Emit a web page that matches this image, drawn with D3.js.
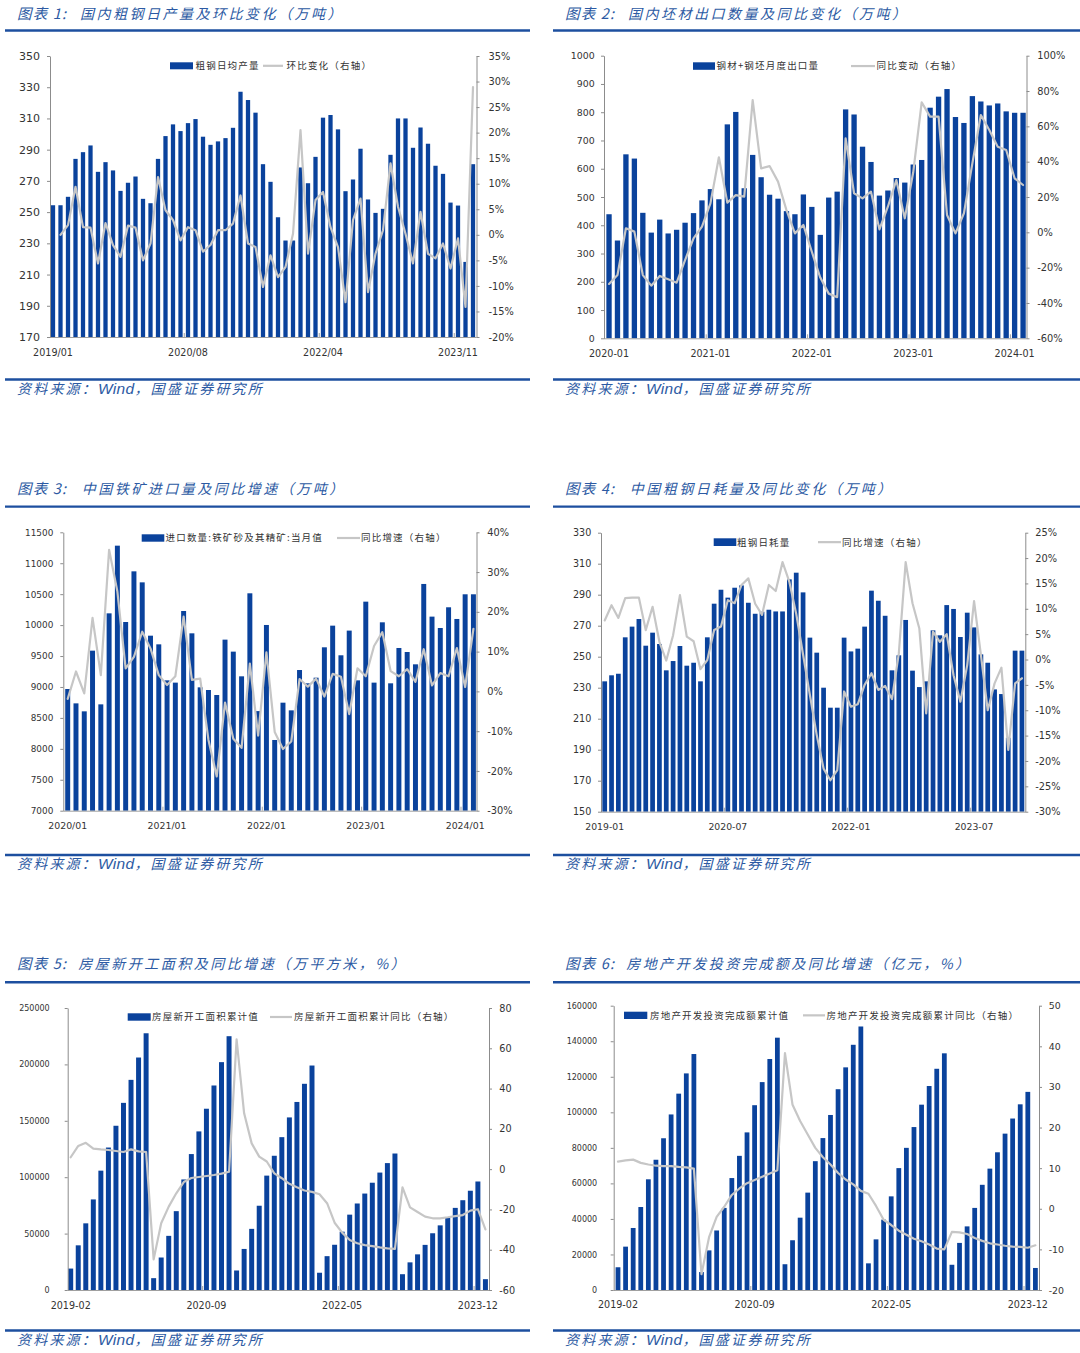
<!DOCTYPE html>
<html><head><meta charset="utf-8">
<script src="https://cdn.jsdelivr.net/npm/d3@7"></script>
<style>
html,body{margin:0;padding:0;background:#fff;}
svg{display:block;}
</style></head>
<body>
<svg id="chart" width="1080" height="1353"></svg>
<script>
// ---------- Chart 1: crude steel daily output & MoM ----------
const steelMonths = ["2019/01","2019/02","2019/03","2019/04","2019/05","2019/06","2019/07","2019/08","2019/09","2019/10","2019/11","2019/12",
"2020/01","2020/03","2020/04","2020/05","2020/06","2020/07","2020/08","2020/09","2020/10","2020/11","2020/12",
"2021/01","2021/03","2021/04","2021/05","2021/06","2021/07","2021/08","2021/09","2021/10","2021/11","2021/12",
"2022/01","2022/03","2022/04","2022/05","2022/06","2022/07","2022/08","2022/09","2022/10","2022/11","2022/12",
"2023/01","2023/03","2023/04","2023/05","2023/06","2023/07","2023/08","2023/09","2023/10","2023/11","2023/12",
"2024/01"];
const steelDailyOutput = [254.4,254.4,259.8,284.1,288.4,292.7,275.8,282,276.7,263.6,268.8,272.8,258.5,255.7,284.1,298.7,306.2,301.9,307,309.6,298.3,293.1,295.3,297.4,304,327.1,321.8,313.7,280.7,269.4,246.7,231.8,231.8,278.6,268.5,285.4,310.5,312.2,303,263.4,270.9,290.6,258.1,249.5,252.1,286.7,310,310,291.2,304.2,293.8,279.7,274.5,256.1,254.2,218.1,280.7];
const steelMoM = [null,0,1.9,9.4,1.5,1.4,-5.6,2.3,-2,-4.3,1.8,1.4,-5,-1.7,11.3,4.8,2.9,-1.1,1.5,0.9,-3.3,-2,0.9,0.9,2.2,7.7,-1.7,-2.4,-10.2,-4,-8.3,-6.3,0.2,20.5,-3.7,6.8,8.4,1.5,-2.4,-13.2,2.9,7.1,-11.2,-3.7,0.9,14,5.5,0.2,-5.6,4.5,-3.7,-4.6,-1.7,-6.6,-0.7,-14.1,28.9];
const steelTickLabels = ["2019/01","2020/08","2022/04","2023/11"];

// ---------- Chart 2: steel + billet exports & YoY ----------
const exportMonths = ["2020-01","2020-02","2020-03","2020-04","2020-05","2020-06","2020-07","2020-08","2020-09","2020-10","2020-11","2020-12",
"2021-01","2021-02","2021-03","2021-04","2021-05","2021-06","2021-07","2021-08","2021-09","2021-10","2021-11","2021-12",
"2022-01","2022-02","2022-03","2022-04","2022-05","2022-06","2022-07","2022-08","2022-09","2022-10","2022-11","2022-12",
"2023-01","2023-02","2023-03","2023-04","2023-05","2023-06","2023-07","2023-08","2023-09","2023-10","2023-11","2023-12",
"2024-01","2024-02"];
const exportVolume = [439,346,651,636,444,374,420,371,384,409,443,488,528,492,757,801,531,649,570,508,494,450,439,509,465,366,498,519,810,792,678,624,505,523,567,551,615,631,816,855,882,783,762,857,838,824,831,803,798,798];
const exportYoY = [-29.2,-24.2,2.3,0.4,-24.2,-30.2,-24.7,-26.6,-28.5,-15.7,-3.4,3.2,16.4,42.5,16.8,21.1,20.2,74.9,36.2,37.5,28.7,12.6,-0.6,4.2,-11,-25.6,-34.7,-36.7,53.2,22.1,19.2,23,1.7,14.5,29.6,7.9,34,73.6,65.5,65.5,9.8,-0.6,10.8,39,66.4,57.9,48.5,46.6,30.6,26.8];
const exportTickLabels = ["2020-01","2021-01","2022-01","2023-01","2024-01"];

// ---------- Chart 3: iron ore imports & YoY ----------
const oreMonths = ["2020/01","2020/02","2020/03","2020/04","2020/05","2020/06","2020/07","2020/08","2020/09","2020/10","2020/11","2020/12",
"2021/01","2021/02","2021/03","2021/04","2021/05","2021/06","2021/07","2021/08","2021/09","2021/10","2021/11","2021/12",
"2022/01","2022/02","2022/03","2022/04","2022/05","2022/06","2022/07","2022/08","2022/09","2022/10","2022/11","2022/12",
"2023/01","2023/02","2023/03","2023/04","2023/05","2023/06","2023/07","2023/08","2023/09","2023/10","2023/11","2023/12",
"2024/01","2024/02"];
const oreImports = [8967,8735,8606,9587,8719,10190,11284,10050,10869,10691,9829,9689,9107,9070,10228,9867,8994,8951,8870,9765,9571,9172,10514,8610,10002,8143,8746,8622,9274,9059,9150,9641,9991,9512,9911,9107,10379,9070,10045,9059,9630,9565,9366,10665,10137,9953,10288,10099,10498,10498];
const oreYoY = [-1.9,5,-0.5,18.5,4.1,35.6,25.1,5.8,8.7,15,10.8,4.1,1.6,3.8,18.8,2.9,3.2,-12.2,-21.4,-2.8,-11.9,-14.2,7,-11.1,9.8,-10.2,-14.5,-12.6,3.1,1.2,3.2,-1.3,4.4,3.7,-5.7,5.8,3.8,11.4,14.9,5.1,3.8,5.6,2.4,10.6,1.5,4.6,3.8,10.9,1.1,15.7];
const oreTickLabels = ["2020/01","2021/01","2022/01","2023/01","2024/01"];

// ---------- Chart 4: crude steel daily consumption & YoY ----------
const useMonths = ["2019-01","2019-02","2019-03","2019-04","2019-05","2019-06","2019-07","2019-08","2019-09","2019-10","2019-11","2019-12",
"2020-01","2020-02","2020-03","2020-04","2020-05","2020-06","2020-07","2020-08","2020-09","2020-10","2020-11","2020-12",
"2021-01","2021-02","2021-03","2021-04","2021-05","2021-06","2021-07","2021-08","2021-09","2021-10","2021-11","2021-12",
"2022-01","2022-02","2022-03","2022-04","2022-05","2022-06","2022-07","2022-08","2022-09","2022-10","2022-11","2022-12",
"2023-01","2023-02","2023-03","2023-04","2023-05","2023-06","2023-07","2023-08","2023-09","2023-10","2023-11","2023-12",
"2024-01","2024-02"];
const steelDailyUse = [234.1,238,239,262.5,269.4,274.3,257.1,265.5,258.2,241.2,247.2,256.9,244.2,246.1,234.1,262.5,284.2,293.2,288.1,294.5,296,284.8,277.7,279,280.3,279.2,279.2,299.9,304.2,291.5,262.3,252.6,230,217.1,217.1,262.3,253.4,255.2,269.4,292.6,286.1,276.4,241.2,250.9,273.7,241,230.4,234.1,267,263.8,283.3,280.8,262.7,278.4,268.9,251.5,246.1,228.9,225.9,197.7,253.9,253.9];
const steelUseYoY = [7.7,10.7,8.2,12.1,12.2,12.2,5.8,10.4,3.5,-0.2,4.8,12.7,4.5,3.6,-1.9,-0.1,5.8,6.5,11.7,11.1,14.7,16,11,8.8,14.7,13.5,19.2,15.3,9,1,-7,-14.9,-21.5,-23.8,-21.8,-6.3,-9.3,-8.8,-5,-2.7,-6,-5.2,-7.8,1.2,19.2,11.1,6.1,-10.6,5.5,3.5,5,-3.1,-8.3,-1.1,11.5,0.9,-10,-4.7,-1.6,-17.8,-4.7,-3.7];
const useTickLabels = ["2019-01","2020-07","2022-01","2023-07"];

// ---------- Charts 5 & 6: housing (cumulative, Jan merged into Feb) ----------
const housingMonths = ["2019-02","2019-03","2019-04","2019-05","2019-06","2019-07","2019-08","2019-09","2019-10","2019-11","2019-12",
"2020-02","2020-03","2020-04","2020-05","2020-06","2020-07","2020-08","2020-09","2020-10","2020-11","2020-12",
"2021-02","2021-03","2021-04","2021-05","2021-06","2021-07","2021-08","2021-09","2021-10","2021-11","2021-12",
"2022-02","2022-03","2022-04","2022-05","2022-06","2022-07","2022-08","2022-09","2022-10","2022-11","2022-12",
"2023-02","2023-03","2023-04","2023-05","2023-06","2023-07","2023-08","2023-09","2023-10","2023-11","2023-12",
"2024-02"];
const newStartsCum = [19000,39600,59100,80300,105800,126300,145600,165900,186300,206100,227600,
10500,28800,48000,69900,98000,120500,140600,160700,181300,202000,225000,
17300,36400,54200,74700,101400,119000,135500,153000,166700,182800,199000,
15300,30000,40100,51700,66800,76700,85500,95100,104100,112500,121000,
14000,24500,31600,40000,50300,57300,64500,72800,79600,88000,96200,
9600];
const newStartsYoY = [5.9,11.5,13.1,10.2,9.8,9.5,9,8.5,9.8,8.8,8.5,
-44.8,-26.9,-18.6,-12,-6.4,-4.4,-3.9,-3.4,-2.9,-2.2,-1.3,
64.4,27.7,12.8,6.2,3.8,-2.1,-4.5,-7.3,-9,-10.6,-11.3,
-12.5,-16.9,-26.6,-31.5,-35.2,-36.8,-37.7,-38.2,-38.8,-39.3,-39.6,
-9,-19,-21.3,-23.6,-24.4,-24.4,-23.9,-23.3,-22.8,-20.6,-19.9,
-29.9];
const investCum = [12800,24400,34900,46700,62300,73300,85400,98800,110500,121900,132800,
10100,22300,33500,46200,63000,75500,88700,104000,117000,130000,142000,
14500,28000,40700,54800,72500,85500,98500,113000,125300,138000,148300,
15000,28500,39600,52700,68600,80000,91700,104300,114800,124500,133200,
14200,26500,35800,46200,59200,68300,77500,88000,96500,104500,111500,
12400];
const investYoY = [11.6,11.9,12.1,11.3,10.9,10.6,10.5,10.5,10.3,10.2,9.9,
-16.1,-7,-2,0.5,3.4,5,6.3,7.1,7.9,8.7,9.5,
38.3,25.6,21.6,18.3,15,12.7,10.9,8.8,7.2,6,4.4,
3.7,0.7,-2.7,-4,-5.4,-6.4,-7.4,-8,-8.8,-9.8,-10,
-5.7,-5.8,-6.2,-7.2,-7.9,-8.5,-8.8,-9.1,-9.3,-9.4,-9.6,
-9];
const housingTickLabels = ["2019-02","2020-09","2022-05","2023-12"];

// ---------- styles ----------
const BAR = "#0a429c", LINE = "#c6c6c6", BLUE_T = "#2c5aa3", RULE = "#1d4f9f";
const NUM = "'DejaVu Sans', Verdana, sans-serif";
const CJK = "'Noto Sans CJK SC', sans-serif";
const svg = d3.select("#chart");
svg.append("rect").attr("width",1080).attr("height",1353).attr("fill","#fff");

const rows = [
  {titleY:18.5, ruleY:30.5, footRuleY:379.5, footY:393.5},
  {titleY:493.5, ruleY:506.6, footRuleY:855, footY:868.5},
  {titleY:969, ruleY:982.2, footRuleY:1330.5, footY:1345}
];
const cols = [{x0:5, x1:530, tx:17}, {x0:553, x1:1080, tx:565}];

const pct = d => d + "%";
const plain = d => String(d);

const panels = [
 {row:0,col:0,num:"1",title:"国内粗钢日产量及环比变化（万吨）",mainX:80,
  cats:steelMonths,bars:steelDailyOutput,line:steelMoM,ticks:steelTickLabels,
  barName:"粗钢日均产量",lineName:"环比变化（右轴）",
  xr:[49.25,476.75],axL:50,axR:476.5,top:56,bottom:337,pad:0.43,
  lDom:[170,350],lTicks:d3.range(170,351,20),lFmt:plain,rDom:[-20,35],rTicks:d3.range(-20,36,5),rFmt:pct,
  lFs:11,rFs:9.8,xFs:9.6,lOff:10,rOff:12,xPad:12.2,
  leg:{rx:170,ry:62.3,rw:23,rh:7,tx:195.5,lx1:263,lx2:283,t2x:286.5}},
 {row:0,col:1,num:"2",title:"国内坯材出口数量及同比变化（万吨）",mainX:628,
  cats:exportMonths,bars:exportVolume,line:exportYoY,ticks:exportTickLabels,
  barName:"钢材+钢坯月度出口量",lineName:"同比变动（右轴）",
  xr:[604.8,1027.3],axL:604,axR:1026.5,top:55.7,bottom:338.3,pad:0.37,
  lDom:[0,1000],lTicks:d3.range(0,1001,100),lFmt:plain,rDom:[-60,100],rTicks:d3.range(-60,101,20),rFmt:pct,
  lFs:9.4,rFs:9.8,xFs:9.6,lOff:9.3,rOff:10.8,xPad:11.4,
  leg:{rx:693,ry:62.3,rw:22,rh:7.5,tx:716.5,lx1:851,lx2:875,t2x:876.5}},
 {row:1,col:0,num:"3",title:"中国铁矿进口量及同比增速（万吨）",mainX:81.7,
  cats:oreMonths,bars:oreImports,line:oreYoY,ticks:oreTickLabels,
  barName:"进口数量:铁矿砂及其精矿:当月值",lineName:"同比增速（右轴）",
  xr:[63.56,477.56],axL:63.3,axR:476.5,top:532.3,bottom:810.7,pad:0.4,
  lDom:[7000,11500],lTicks:d3.range(7000,11501,500),lFmt:plain,rDom:[-30,40],rTicks:d3.range(-30,41,10),rFmt:pct,
  lFs:8.9,rFs:9.8,xFs:9.4,lOff:10,rOff:10.8,xPad:11.7,
  leg:{rx:141.7,ry:534.3,rw:22.6,rh:7.4,tx:165.5,lx1:337,lx2:360,t2x:361}},
 {row:1,col:1,num:"4",title:"中国粗钢日耗量及同比变化（万吨）",mainX:629.7,
  cats:useMonths,bars:steelDailyUse,line:steelUseYoY,ticks:useTickLabels,
  barName:"粗钢日耗量",lineName:"同比增速（右轴）",
  xr:[601.28,1025.36],axL:601,axR:1025.3,top:532.7,bottom:811.7,pad:0.31,
  lDom:[150,330],lTicks:d3.range(150,331,20),lFmt:plain,rDom:[-30,25],rTicks:d3.range(-30,26,5),rFmt:pct,
  lFs:9.6,rFs:9.8,xFs:9.3,lOff:9.7,rOff:10,xPad:11.7,
  leg:{rx:713.7,ry:538.3,rw:22.6,rh:7.7,tx:737,lx1:818,lx2:841,t2x:842}},
 {row:2,col:0,num:"5",title:"房屋新开工面积及同比增速（万平方米，%）",mainX:78.3,
  cats:housingMonths,bars:newStartsCum,line:newStartsYoY,ticks:housingTickLabels,
  barName:"房屋新开工面积累计值",lineName:"房屋新开工面积累计同比（右轴）",
  xr:[66.93,489.2],axL:67.7,axR:489,top:1008,bottom:1290,pad:0.34,
  lDom:[0,250000],lTicks:d3.range(0,250001,50000),lFmt:plain,rDom:[-60,80],rTicks:d3.range(-60,81,20),rFmt:plain,
  lFs:8,rFs:9.7,xFs:9.6,lOff:18,rOff:10.3,xPad:11.7,
  leg:{rx:127.7,ry:1013.3,rw:23,rh:7.4,tx:152,lx1:270,lx2:292,t2x:294}},
 {row:2,col:1,num:"6",title:"房地产开发投资完成额及同比增速（亿元，%）",mainX:626.3,
  cats:housingMonths,bars:investCum,line:investYoY,ticks:housingTickLabels,
  barName:"房地产开发投资完成额累计值",lineName:"房地产开发投资完成额累计同比（右轴）",
  xr:[614.2,1039.2],axL:613.7,axR:1039,top:1005.7,bottom:1290,pad:0.37,
  lDom:[0,160000],lTicks:d3.range(0,160001,20000),lFmt:plain,rDom:[-20,50],rTicks:d3.range(-20,51,10),rFmt:plain,
  lFs:8,rFs:9.4,xFs:9.6,lOff:16.5,rOff:9.7,xPad:10.7,
  leg:{rx:624,ry:1011.7,rw:23.3,rh:7.3,tx:650,lx1:803,lx2:825,t2x:826.5}}
];

function styleAxis(a, fs) {
  a.select(".domain").attr("stroke","#8c8c8c").attr("stroke-width",1);
  a.selectAll(".tick line").attr("stroke","#8c8c8c");
  a.selectAll(".tick text").attr("font-family",NUM).attr("font-size",fs).attr("fill","#333");
}

panels.forEach(p => {
  const r = rows[p.row], c = cols[p.col];
  const g = svg.append("g");

  // header / footer
  g.append("text").attr("x",c.tx).attr("y",r.titleY).attr("font-family",CJK).attr("font-style","italic")
    .attr("font-size",14.5).attr("letter-spacing",1.2).attr("fill",BLUE_T).text("图表 " + p.num + ":");
  g.append("text").attr("x",p.mainX).attr("y",r.titleY).attr("font-family",CJK).attr("font-style","italic")
    .attr("font-size",14).attr("letter-spacing",2.5).attr("fill",BLUE_T).text(p.title);
  g.append("line").attr("x1",c.x0).attr("x2",c.x1).attr("y1",r.ruleY).attr("y2",r.ruleY).attr("stroke",RULE).attr("stroke-width",2.4);
  g.append("line").attr("x1",c.x0).attr("x2",c.x1).attr("y1",r.footRuleY).attr("y2",r.footRuleY).attr("stroke",RULE).attr("stroke-width",2.4);
  const ft = g.append("text").attr("x",c.tx).attr("y",r.footY).attr("font-family",CJK).attr("font-style","italic")
    .attr("font-size",14).attr("fill",BLUE_T);
  ft.append("tspan").attr("letter-spacing",2.2).text("资料来源：");
  ft.append("tspan").attr("letter-spacing",0.3).attr("font-family","'Liberation Sans', Arial, sans-serif").attr("font-size",15.5).text("Wind");
  ft.append("tspan").attr("letter-spacing",2.2).text("，国盛证券研究所");

  // scales
  const x = d3.scaleBand().domain(p.cats).range(p.xr).paddingInner(p.pad).paddingOuter(p.pad/2);
  const yL = d3.scaleLinear().domain(p.lDom).range([p.bottom,p.top]);
  const yR = d3.scaleLinear().domain(p.rDom).range([p.bottom,p.top]);

  // bars
  g.append("g").selectAll("rect").data(p.cats).join("rect")
    .attr("x",d => x(d)).attr("width",x.bandwidth())
    .attr("y",(d,i) => yL(p.bars[i])).attr("height",(d,i) => yL(p.lDom[0]) - yL(p.bars[i]))
    .attr("fill",BAR);

  // bottom axis line and category-boundary ticks
  g.append("line").attr("x1",p.axL).attr("x2",p.axR).attr("y1",p.bottom+0.5).attr("y2",p.bottom+0.5).attr("stroke","#a0a0a0");
  const gap = (x.step() - x.bandwidth())/2;
  g.append("g").selectAll("line").data(p.ticks.slice(1)).join("line")
    .attr("x1",d => x(d)-gap).attr("x2",d => x(d)-gap).attr("y1",p.bottom).attr("y2",p.bottom-4)
    .attr("stroke","#a0a0a0");

  // x labels
  const ax = g.append("g").attr("transform",`translate(0,${p.bottom})`)
    .call(d3.axisBottom(x).tickValues(p.ticks).tickSize(0).tickPadding(p.xPad));
  ax.select(".domain").remove();
  ax.selectAll(".tick text").attr("font-family",NUM).attr("font-size",p.xFs).attr("fill","#333");

  // y axes
  const al = g.append("g").attr("transform",`translate(${p.axL},0)`)
    .call(d3.axisLeft(yL).tickValues(p.lTicks).tickFormat(p.lFmt).tickSize(3).tickSizeOuter(0).tickPadding(p.lOff-3));
  styleAxis(al, p.lFs);
  const ar = g.append("g").attr("transform",`translate(${p.axR},0)`)
    .call(d3.axisRight(yR).tickValues(p.rTicks).tickFormat(p.rFmt).tickSize(3).tickSizeOuter(0).tickPadding(p.rOff-3));
  styleAxis(ar, p.rFs);

  // line
  const lineGen = d3.line().defined(d => d[1] != null)
    .x(d => x(d[0]) + x.bandwidth()/2).y(d => yR(d[1]));
  g.append("path").datum(p.cats.map((c2,i) => [c2, p.line[i]]))
    .attr("d",lineGen).attr("fill","none").attr("stroke",LINE).attr("stroke-width",2.2)
    .attr("stroke-linejoin","round").attr("stroke-linecap","round");

  // legend
  const L = p.leg, cy = L.ry + L.rh/2;
  g.append("rect").attr("x",L.rx).attr("y",L.ry).attr("width",L.rw).attr("height",L.rh).attr("fill",BAR);
  g.append("text").attr("x",L.tx).attr("y",cy).attr("dy","0.36em").attr("font-family",CJK)
    .attr("font-size",9.5).attr("letter-spacing",1.2).attr("fill","#333").text(p.barName);
  g.append("line").attr("x1",L.lx1).attr("x2",L.lx2).attr("y1",cy).attr("y2",cy).attr("stroke",LINE).attr("stroke-width",2.2);
  g.append("text").attr("x",L.t2x).attr("y",cy).attr("dy","0.36em").attr("font-family",CJK)
    .attr("font-size",9.5).attr("letter-spacing",1.2).attr("fill","#333").text(p.lineName);
});
</script>
</body></html>
